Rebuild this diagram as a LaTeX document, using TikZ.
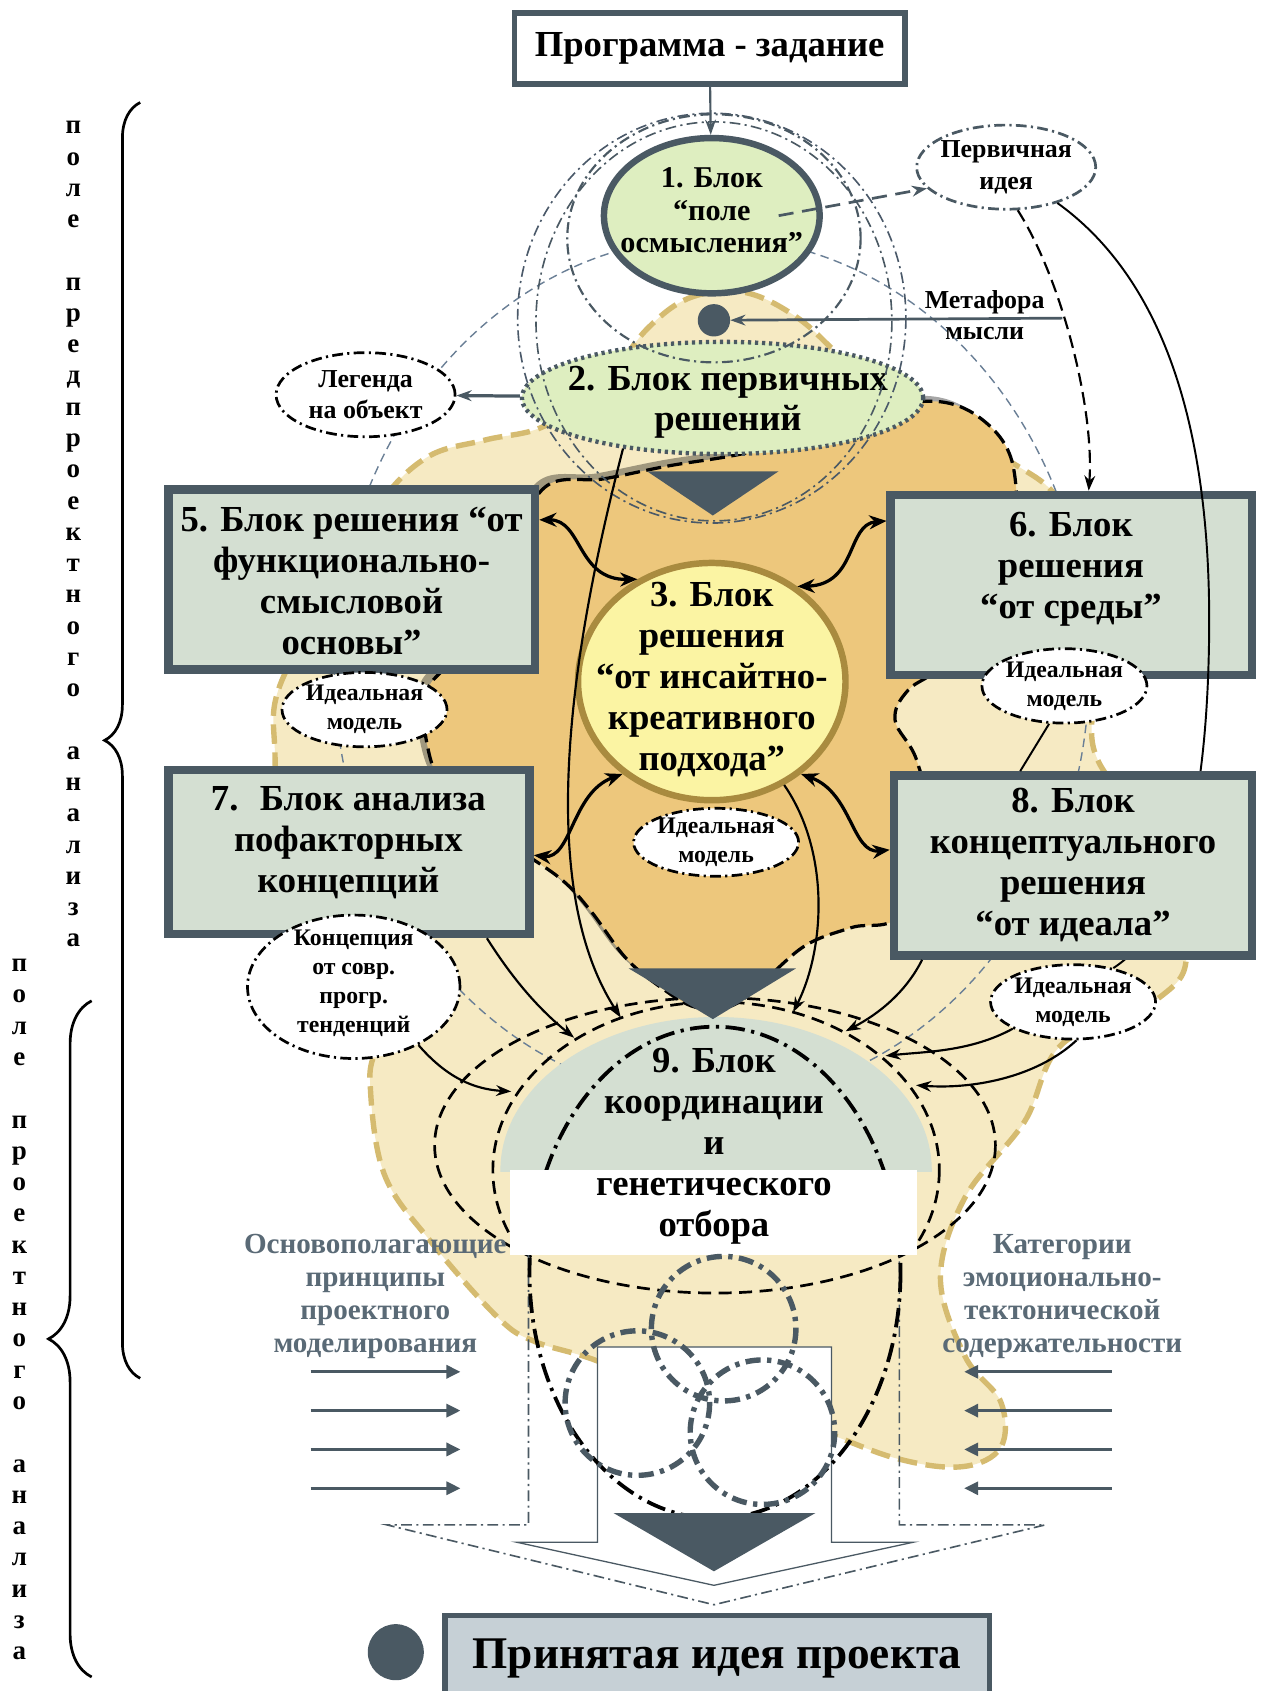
\documentclass[tikz,border=0pt]{standalone}
\usepackage{fontspec}
\setmainfont{Liberation Serif}
\usetikzlibrary{positioning, arrows.meta, shapes.geometric, decorations.pathreplacing}

\definecolor{dkgrey}{HTML}{4A5963}
\definecolor{boxfill}{HTML}{D4DFD2}
\definecolor{lightgreen}{HTML}{DEEEC0}
\definecolor{yellowfill}{HTML}{FBF4A3}
\definecolor{yellowline}{HTML}{A98B3F}
\definecolor{orangefill}{HTML}{EDC77C}
\definecolor{tanfill}{HTML}{F6EAC3}
\definecolor{tanline}{HTML}{D5BB70}
\definecolor{bluedash}{HTML}{6A7F96}
\definecolor{sidetext}{HTML}{5A6A76}
\definecolor{ideafill}{HTML}{C6D0D6}

\begin{document}
\begin{tikzpicture}[x=1pt, y=-1pt, >={Stealth[length=14pt, width=10pt]}]
\tikzset{
  bigbox/.style={rectangle, draw=dkgrey, line width=8pt, fill=boxfill, inner sep=0pt},
  oval/.style={ellipse, inner sep=0pt},
  dashdot/.style={dash pattern=on 10pt off 4pt on 2pt off 4pt},
  ideal/.style={oval, draw=black, fill=white, line width=2.5pt, dashdot, minimum width=153pt, minimum height=69pt},
  t34/.style={align=center, font=\fontsize{34}{38}\selectfont\bfseries},
  t28/.style={align=center, font=\fontsize{28}{30}\selectfont\bfseries},
  t24/.style={align=center, font=\fontsize{24}{29}\selectfont\bfseries},
  t22/.style={align=center, font=\fontsize{22}{27}\selectfont\bfseries},
  side/.style={align=center, text=sidetext, font=\fontsize{27}{30.5}\selectfont\bfseries},
  vletter/.style={anchor=base, inner sep=0pt, font=\fontsize{25}{29}\selectfont\bfseries},
  link/.style={->, line width=2pt},
  twoway/.style={<->, line width=3pt, >={Stealth[length=16pt, width=13pt]}},
  input/.style={-{Triangle[length=13pt, width=12pt]}, dkgrey, line width=3pt}
}

\fill[white] (0,0) rectangle (1170,1568);
\useasboundingbox (0,0) rectangle (1170,1568);

% FIELDS
\draw[tanline, fill=tanfill, line width=5pt, dash pattern=on 18pt off 8pt]
  plot[smooth cycle, tension=0.6] coordinates {(600,305) (640,276) (690,271) (740,295) (790,340)
  (860,392) (940,430) (985,470) (1005,560) (1012,650) (1018,705) (1070,780) (1100,880) (1075,925)
  (985,968) (950,1040) (895,1110) (872,1185) (895,1258) (928,1300) (928,1342) (892,1360) (830,1352)
  (740,1320) (640,1300) (554,1262) (496,1244) (462,1222) (400,1152) (356,1088) (343,1000) (350,950)
  (300,890) (262,800) (255,700) (258,640) (300,560) (350,470) (396,424) (450,408) (505,395) (560,355)};
\fill[black, opacity=0.35, xshift=-7pt, yshift=5pt]
  plot[smooth cycle, tension=0.6] coordinates {(505,452) (560,444) (620,432) (700,418) (780,390)
  (862,372) (912,390) (940,435) (935,520) (880,610) (842,640) (830,668) (850,705) (862,770) (835,848)
  (790,860) (748,876) (712,906) (680,932) (645,934) (612,915) (580,888) (548,845) (520,815) (470,780)
  (415,735) (396,690) (396,640) (430,600) (470,520)};
\draw[black, fill=orangefill, line width=3pt, dash pattern=on 14pt off 6pt]
  plot[smooth cycle, tension=0.6] coordinates {(505,452) (560,444) (620,432) (700,418) (780,390)
  (862,372) (912,390) (940,435) (935,520) (880,610) (842,640) (830,668) (850,705) (862,770) (835,848)
  (790,860) (748,876) (712,906) (680,932) (645,934) (612,915) (580,888) (548,845) (520,815) (470,780)
  (415,735) (396,690) (396,640) (430,600) (470,520)};
\draw[bluedash, line width=1.3pt, dash pattern=on 8pt off 5pt] (660,620) ellipse [x radius=350, y radius=400];

% BLOCK 9 FIELD
\draw[line width=2.5pt, dash pattern=on 12pt off 7pt] (663,1062) ellipse [x radius=260, y radius=137];
\begin{scope}
  \clip (0,0) rectangle (1170,1086);
  \fill[boxfill] (664,1085) ellipse [x radius=200, y radius=142];
\end{scope}
\begin{scope}
  \clip (0,0) rectangle (1170,1158);
  \draw[line width=2.5pt, dash pattern=on 12pt off 7pt] (664,1085) ellipse [x radius=207, y radius=156];
\end{scope}
\draw[dkgrey, line width=1.5pt, dashdot] (490,1162) -- (490,1414) -- (359,1414) -- (662,1488)
  -- (969,1414) -- (834,1414) -- (834,1162);
\draw[dkgrey, line width=1.2pt, fill=white] (554,1249) -- (771,1249) -- (771,1430) -- (847,1430)
  -- (662,1470) -- (479,1430) -- (554,1430) -- cycle;
\draw[line width=3.5pt, dash pattern=on 18pt off 6pt on 3pt off 6pt] (663,1180) ellipse [x radius=172, y radius=228];
\fill[white] (473,1085) rectangle (850,1164);
\draw[dkgrey, line width=5pt, dash pattern=on 14pt off 6pt on 4pt off 6pt] (671,1232) circle [radius=67];
\draw[dkgrey, line width=5pt, dash pattern=on 14pt off 6pt on 4pt off 6pt] (591,1301) circle [radius=67];
\draw[dkgrey, line width=5pt, dash pattern=on 14pt off 6pt on 4pt off 6pt] (707,1328) circle [radius=67];
\fill[dkgrey] (569,1403) -- (756,1403) -- (662,1457) -- cycle;
\fill[dkgrey] (583,898) -- (738,898) -- (661,945) -- cycle;
\node[oval, minimum width=430pt, minimum height=310pt] (b9) at (664,1085) {};
\node[t34] at (662,1063) {9. Блок\\координации\\и\\генетического\\отбора};

% TOP BLOCKS
\node[rectangle, draw=dkgrey, line width=5pt, fill=white, minimum width=362pt, minimum height=66pt, t34] (prog) at (658,45) {Программа - задание};
\node[oval, draw=dkgrey, line width=6pt, fill=lightgreen, minimum width=200pt, minimum height=144pt] (c1) at (660,200) {};
\node[t28] at (660,195) {1. Блок\\“поле\\осмысления”};
\node[circle, fill=dkgrey, minimum size=30pt, inner sep=0pt] (mdot) at (662,297) {};
\node[oval, draw=dkgrey, fill=white, line width=2.5pt, dashdot, minimum width=166pt, minimum height=78pt] (pid) at (933,155) {};
\node[t24] at (pid) {Первичная\\идея};
\node[t24] (meta) at (913,292) {Метафора\\мысли};
\coordinate (metatail) at (985,295);
\node[oval, draw=dkgrey, fill=lightgreen, line width=4pt, dash pattern=on 3pt off 3.5pt, minimum width=372pt, minimum height=104pt] (b2) at (670,369) {};
\node[t34] at (675,373) {2. Блок первичных\\решений};
\node[oval, draw=black, fill=white, line width=2.5pt, dashdot, minimum width=166pt, minimum height=78pt] (leg) at (339,366) {};
\node[t24] at (leg) {Легенда\\на объект};

\draw[bluedash!70!black, line width=1.5pt, dashdot] (660,295) ellipse [x radius=180, y radius=190];
\draw[dkgrey, line width=1.5pt, dashdot] (662,298) ellipse [x radius=165, y radius=185];
\draw[dkgrey, line width=2pt, dashdot] (662,221) ellipse [x radius=136, y radius=115];
\fill[dkgrey] (600,437) -- (722,437) -- (661,478) -- cycle;

% SOLUTION BLOCKS
\node[bigbox, minimum width=340pt, minimum height=167pt] (b5) at (326,537.5) {};
\node[t34] at (326,539) {5. Блок решения “от\\функционально-\\смысловой\\основы”};
\node[bigbox, minimum width=335pt, minimum height=167pt] (b6) at (993.5,542.5) {};
\node[t34] at (993,528) {6. Блок\\решения\\“от среды”};
\node[oval, draw=yellowline, fill=yellowfill, line width=6pt, minimum width=248pt, minimum height=220pt] (c3) at (660,632) {};
\node[t34] at (660,630) {3. Блок\\решения\\“от инсайтно-\\креативного\\подхода”};
\node[bigbox, minimum width=335pt, minimum height=152pt] (b7) at (323.5,790) {};
\node[t34] at (323,781) {7.~ Блок анализа\\пофакторных\\концепций};

% IDEAL MODELS
\node[ideal] (i5) at (338,658) {};
\node[t22] at (i5) {Идеальная\\модель};
\node[ideal] (i6) at (987,636) {};
\node[t22] at (i6) {Идеальная\\модель};
\node[ideal, minimum height=63pt] (i3) at (664,781) {};
\node[t22] at (i3) {Идеальная\\модель};
\node[ideal] (i8) at (995,929) {};
\node[t22] at (i8) {Идеальная\\модель};
\node[ideal, minimum width=197pt, minimum height=133pt] (konc) at (328,915) {};
\node[t22] at (328,912) {Концепция\\от совр.\\прогр.\\тенденций};

\draw[line width=1.8pt] (pid.-35) .. controls (1080,260) and (1125,400) .. (1121,600)
  .. controls (1118,760) and (1090,860) .. (i8.40);
\node[bigbox, minimum width=332pt, minimum height=167pt] (b8) at (995,802.5) {};
\node[t34] at (995,802) {8. Блок\\концептуального\\решения\\“от идеала”};

% CONNECTORS
\draw[->, dkgrey, line width=2pt] (prog) -- (c1);
\draw[->, dkgrey, line width=2.5pt, dash pattern=on 14pt off 8pt] ([xshift=62pt]c1.center) -- (pid.195);
\draw[->, dkgrey, line width=2.5pt] (metatail) -- (mdot);
\draw[->, dkgrey, line width=3pt] (b2) -- (leg);
\draw[->, line width=2pt, dash pattern=on 12pt off 6pt] (pid.-75) .. controls (985,260) and (1015,380) .. ([xshift=16pt]b6.north);
\draw[line width=1.8pt] (i6.-112) -- ([xshift=-49pt]b8.north);

\draw[twoway] ([yshift=-32pt]b5.north east) .. controls (540,482) and (535,538) .. (c3.126);
\draw[twoway] ([yshift=-28pt]b6.north west) .. controls (785,486) and (795,542) .. (c3.48);
\draw[twoway] ([yshift=-83pt]b7.north east) .. controls (530,797) and (530,735) .. (c3.-134);
\draw[twoway] ([yshift=-73pt]b8.north west) .. controls (790,792) and (790,735) .. (c3.-46);

\draw[link] (b2.-153) .. controls (530,600) and (495,820) .. (b9.122);
\draw[link] (c3.-55) .. controls (770,790) and (765,880) .. (b9.64);
\draw[link] ([xshift=128pt]b7.south) .. controls (480,915) and (505,940) .. (b9.137);
\draw[link] (konc.-42) .. controls (415,1000) and (440,1010) .. (b9.159);
\draw[link] ([xshift=-140pt]b8.south) .. controls (840,920) and (815,940) .. (b9.47);
\draw[link] (i8.-156) .. controls (900,975) and (860,975) .. (b9.34);
\draw[link] (i8.-85) .. controls (960,1000) and (900,1010) .. (b9.23);

% PRINCIPLES
\node[side] (lside) at (348,1202) {Основополагающие\\принципы\\проектного\\моделирования};
\node[side] (rside) at (985,1202) {Категории\\эмоционально-\\тектонической\\содержательности};
\foreach \y in {1272,1308,1344,1380} {
  \draw[input] (288,\y) -- (427,\y);
  \draw[input] (1031,\y) -- (894,\y);
}

% RESULT
\node[circle, fill=dkgrey, minimum size=52pt, inner sep=0pt] (ball) at (367,1532) {};
\node[rectangle, draw=dkgrey, line width=5pt, fill=ideafill, minimum width=505pt, minimum height=80pt,
  font=\fontsize{42}{46}\selectfont\bfseries] (idea) at (665,1538) {Принятая идея проекта};

% FIELD LABELS
\draw[line width=2.5pt, decorate, decoration={brace, amplitude=33pt}] (130,1278) -- (130,95);
\draw[line width=2.5pt, decorate, decoration={brace, amplitude=40pt}] (85,1555) -- (85,928);
\foreach \ch [count=\i from 0] in {п,о,л,е,{},п,р,е,д,п,р,о,е,к,т,н,о,г,о,{},а,н,а,л,и,з,а}
  \node[vletter] at (68,{124+29*\i}) {\ch};
\foreach \ch [count=\i from 0] in {п,о,л,е,{},п,р,о,е,к,т,н,о,г,о,{},а,н,а,л,и,з,а}
  \node[vletter] at (18,{901+29*\i}) {\ch};

\end{tikzpicture}
\end{document}
